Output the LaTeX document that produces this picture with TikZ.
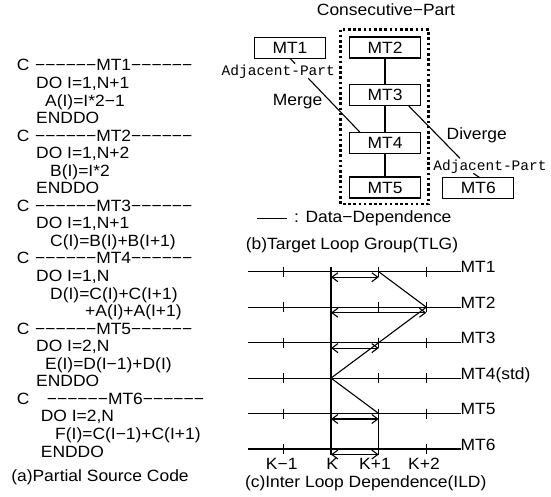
\documentclass[tikz,border=0pt]{standalone}
\usepackage{fontspec}
\setmainfont{Liberation Sans}[FakeStretch=1.07]
\newfontfamily\monofnt{Liberation Mono}
\usetikzlibrary{arrows.meta}
\begin{document}
\begin{tikzpicture}[x=1pt,y=-1pt,
  txt/.style={inner sep=0pt, font=\fontsize{16.3}{18}\selectfont},
  code/.style={txt, anchor=base west},
  mono/.style={inner sep=0pt, font=\monofnt\fontsize{14.5}{16}\selectfont},
  box/.style={draw, line width=1.1pt, minimum width=71pt, minimum height=21pt, inner sep=0pt, font=\fontsize{16.3}{18}\selectfont},
  ln/.style={line width=1.1pt},
  dbl/.style={line width=1.1pt, {Straight Barb[length=6pt,width=9pt]}-{Straight Barb[length=6pt,width=9pt]}},
  grp/.style={line width=2.8pt, dash pattern=on 2.6pt off 2.6pt}
]
\useasboundingbox (0,0) rectangle (551,496);

% ---------- (a) source code ----------
\node[code] (c0a) at (16.7,70.9) {C};
\node[code] (c0) at (35,70.9) {−−−−−−MT1−−−−−−};
\node[code] (c1) at (36,88.45) {DO I=1,N+1};
\node[code] (c2) at (45,106.0) {A(I)=I*2−1};
\node[code] (c3) at (36,123.55) {ENDDO};
\node[code] (c4a) at (16.7,141.1) {C};
\node[code] (c4) at (35,141.1) {−−−−−−MT2−−−−−−};
\node[code] (c5) at (36,158.65) {DO I=1,N+2};
\node[code] (c6) at (50,176.2) {B(I)=I*2};
\node[code] (c7) at (36,193.75) {ENDDO};
\node[code] (c8a) at (16.7,211.3) {C};
\node[code] (c8) at (35,211.3) {−−−−−−MT3−−−−−−};
\node[code] (c9) at (36,228.85) {DO I=1,N+1};
\node[code] (c10) at (50,246.4) {C(I)=B(I)+B(I+1)};
\node[code] (c11a) at (16.7,263.95) {C};
\node[code] (c11) at (35,263.95) {−−−−−−MT4−−−−−−};
\node[code] (c12) at (36,281.5) {DO I=1,N};
\node[code] (c13) at (50,299.05) {D(I)=C(I)+C(I+1)};
\node[code] (c14) at (85,316.6) {+A(I)+A(I+1)};
\node[code] (c15a) at (16.7,334.15) {C};
\node[code] (c15) at (35,334.15) {−−−−−−MT5−−−−−−};
\node[code] (c16) at (36,351.7) {DO I=2,N};
\node[code] (c17) at (45,369.25) {E(I)=D(I−1)+D(I)};
\node[code] (c18) at (36,386.8) {ENDDO};
\node[code] (c19a) at (16.7,404.35) {C};
\node[code] (c19) at (46.7,404.35) {−−−−−−MT6−−−−−−};
\node[code] (c20) at (40.7,421.9) {DO I=2,N};
\node[code] (c21) at (55,439.45) {F(I)=C(I−1)+C(I+1)};
\node[code] (c22) at (40.7,457.0) {ENDDO};
\node[txt] (capa) at (100,477) {(a)Partial Source Code};

% ---------- (b) TLG ----------
\node[txt] (cons) at (386,10) {Consecutive−Part};
\draw[grp] (340.7,29.5) rectangle (428.5,204);
\node[box] (m1) at (290,47.8) {MT1};
\node[box] (m2) at (385,47.5) {MT2};
\node[box] (m3) at (385,95) {MT3};
\node[box] (m4) at (385,142.8) {MT4};
\node[box] (m5) at (385,187.5) {MT5};
\node[box] (m6) at (478.3,188.3) {MT6};
\draw[ln] (m2) -- (m3);
\draw[ln] (m3) -- (m4);
\draw[ln] (m4) -- (m5);
\node[mono] (adjl) at (278.3,71.7) {Adjacent-Part};
\node[mono] (adjr) at (490,166.7) {Adjacent-Part};
\node[txt] (merge) at (297.5,101.7) {Merge};
\node[txt] (diverge) at (476.7,135) {Diverge};
\coordinate (mA) at (290,58.4);
\coordinate (mB) at (295,63.5);
\draw[ln] (mA) -- (mB);
\coordinate (mgS) at (308.3,78.3);
\coordinate (mgE) at (360,132.3);
\draw[ln] (mgS) -- (mgE);
\coordinate (dvS) at (408.3,105.5);
\coordinate (dvE) at (460,158.3);
\draw[ln] (dvS) -- (dvE);
\coordinate (r6A) at (473.3,173.3);
\coordinate (r6B) at (480,177.8);
\draw[ln] (r6A) -- (r6B);
\coordinate (ddA) at (257,218.3);
\coordinate (ddB) at (287,218.3);
\draw[ln] (ddA) -- (ddB);
\node[txt, anchor=west] (dd) at (294,218.3) {: Data−Dependence};
\node[txt] (capb) at (352,245) {(b)Target Loop Group(TLG)};

% ---------- (c) ILD ----------
\foreach \i/\y/\lab in {1/271.7/MT1, 2/307.2/MT2, 3/342.6/MT3, 4/378.1/MT4(std), 5/413.5/MT5, 6/449.0/MT6} {
  \coordinate (L\i) at (248,\y);
  \node[txt, anchor=base west] (R\i) at (460.5,\y+1) {\lab};
  \draw[ln] (L\i) -- (460.5,\y);
  \foreach \x in {283.3,331,378.7,426.3} {
    \draw[ln] (\x,\y-5) -- (\x,\y+5);
  }
}
\coordinate (k1) at (331,271.7);
\coordinate (k2) at (331,454.5);
\draw[ln] (k1) -- (k2);
\coordinate (kp1) at (378.7,413.5);
\coordinate (kp2) at (378.7,454.5);
\draw[ln] (kp1) -- (kp2);
\draw[dbl] (331,277.2) -- (378.7,277.2);
\draw[dbl] (331,312.7) -- (426.3,312.7);
\draw[dbl] (331,348.1) -- (378.7,348.1);
\draw[dbl] (331,419.0) -- (378.7,419.0);
\draw[dbl] (331,454.5) -- (378.7,454.5);
\coordinate (z1) at (378.7,271.7);
\coordinate (z2) at (426.3,307.2);
\coordinate (z3) at (331,378.1);
\coordinate (z4) at (378.7,413.5);
\draw[ln, line join=miter] (z1) -- (z2) -- (z3) -- (z4);
\node[txt] (t1) at (281.7,464) {K−1};
\node[txt] (t2) at (332.3,464) {K};
\node[txt] (t3) at (375,464) {K+1};
\node[txt] (t4) at (424,464) {K+2};
\node[txt] (capc) at (365.7,483) {(c)Inter Loop Dependence(ILD)};
\end{tikzpicture}
\end{document}
